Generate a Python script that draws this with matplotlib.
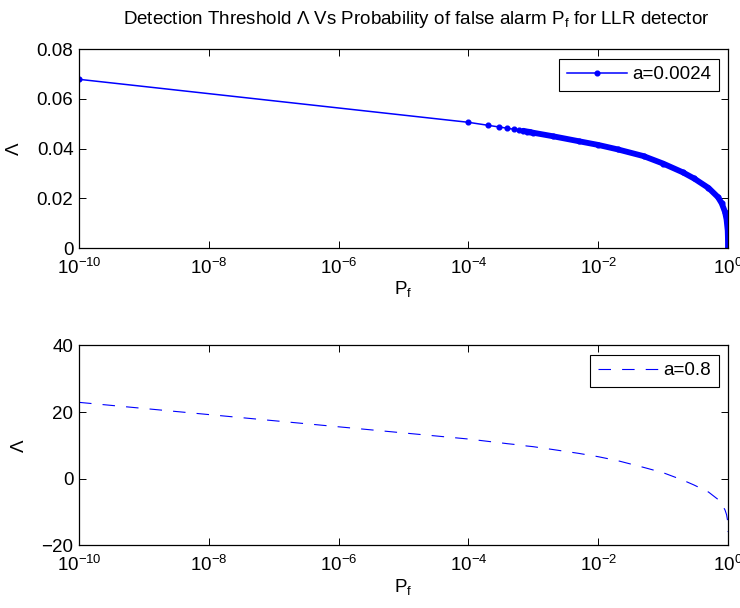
import matplotlib
matplotlib.use("Agg")
import matplotlib.pyplot as plt
import matplotlib.ticker as ticker

# Probability of false alarm (shared by both panels)
pf = [1e-10, 1e-4, 2e-4, 3e-4, 4e-4, 5e-4, 6e-4, 7e-4, 8e-4, 9e-4,
      1e-3, 2e-3, 5e-3, 1e-2, 2e-2, 5e-2, 0.1, 0.2, 0.3, 0.5,
      0.7, 0.8, 0.9, 0.95, 0.99, 0.999, 1.0]

# Threshold for a = 0.0024
lam_small = [0.0679, 0.0506, 0.0494, 0.0487, 0.0482, 0.0478, 0.0475, 0.0472, 0.0469, 0.0467,
             0.0464, 0.0450, 0.0430, 0.0415, 0.0397, 0.0370, 0.0340, 0.0305, 0.0280, 0.0242,
             0.0205, 0.0180, 0.0145, 0.0115, 0.0070, 0.0035, 0.0]

# Threshold for a = 0.8
lam_large = [22.9, 11.9, 11.2, 10.8, 10.5, 10.3, 10.1, 9.95, 9.8, 9.7,
             9.6, 8.75, 7.6, 6.6, 5.4, 3.4, 1.8, -0.4, -1.9, -4.0,
             -6.2, -7.6, -9.4, -10.8, -12.8, -14.6, -16.0]

xticks = [1e-10, 1e-8, 1e-6, 1e-4, 1e-2, 1]

plt.rcParams.update({
    "font.family": "Liberation Sans",
    "font.size": 13.5,
    "lines.scale_dashes": False,
})

fig = plt.figure(figsize=(7.4, 6.08), dpi=100)
ax1 = fig.add_axes([0.1068, 0.592, 0.877, 0.327])
ax2 = fig.add_axes([0.1068, 0.103, 0.877, 0.329])

blue = "#0000ff"

# top panel: thin line with dot markers, dense part drawn as a thick band
ax1.plot(pf, lam_small, color=blue, lw=1.1, marker="o", ms=3.4,
         label="a=0.0024")
dense = [i for i, p in enumerate(pf) if p >= 7e-4]
ax1.plot([pf[i] for i in dense], [lam_small[i] for i in dense],
         color=blue, lw=4.2, solid_capstyle="round", solid_joinstyle="round")

ax2.plot(pf, lam_large, color=blue, lw=0.8, linestyle=(0, (9, 8)),
         label="a=0.8")

for ax in (ax1, ax2):
    ax.set_xscale("log")
    ax.set_xlim(1e-10, 1)
    ax.set_xticks(xticks)
    ax.xaxis.set_minor_locator(ticker.NullLocator())
    ax.tick_params(direction="in", length=4.7, width=0.7, top=True, right=True,
                   labelsize=13.5)
    ax.tick_params(axis="x", pad=7)
    ax.tick_params(axis="y", pad=4)
    for s in ax.spines.values():
        s.set_linewidth(0.9)
    ax.set_xlabel("$\\mathregular{P_f}$", fontsize=13.5, labelpad=1)
    ax.set_ylabel("Λ", fontsize=13.5, labelpad=10)
    leg = ax.legend(loc="upper right", fancybox=False, framealpha=1,
                    edgecolor="black", fontsize=13.5, handlelength=3.2,
                    handletextpad=0.3, borderaxespad=0.5, borderpad=0.4)
    leg.get_frame().set_linewidth(0.8)

ax1.set_ylim(0, 0.08)
ax1.set_yticks([0, 0.02, 0.04, 0.06, 0.08])
ax1.yaxis.set_major_formatter(ticker.FuncFormatter(lambda v, p: "%g" % v))

ax2.set_ylim(-20, 40)
ax2.set_yticks([-20, 0, 20, 40])

ax1.set_title("Detection Threshold Λ Vs Probability of false alarm $\\mathregular{P_f}$ for LLR detector",
              fontsize=13.5, pad=18, x=0.519)

fig.savefig("out.png", dpi=100)
